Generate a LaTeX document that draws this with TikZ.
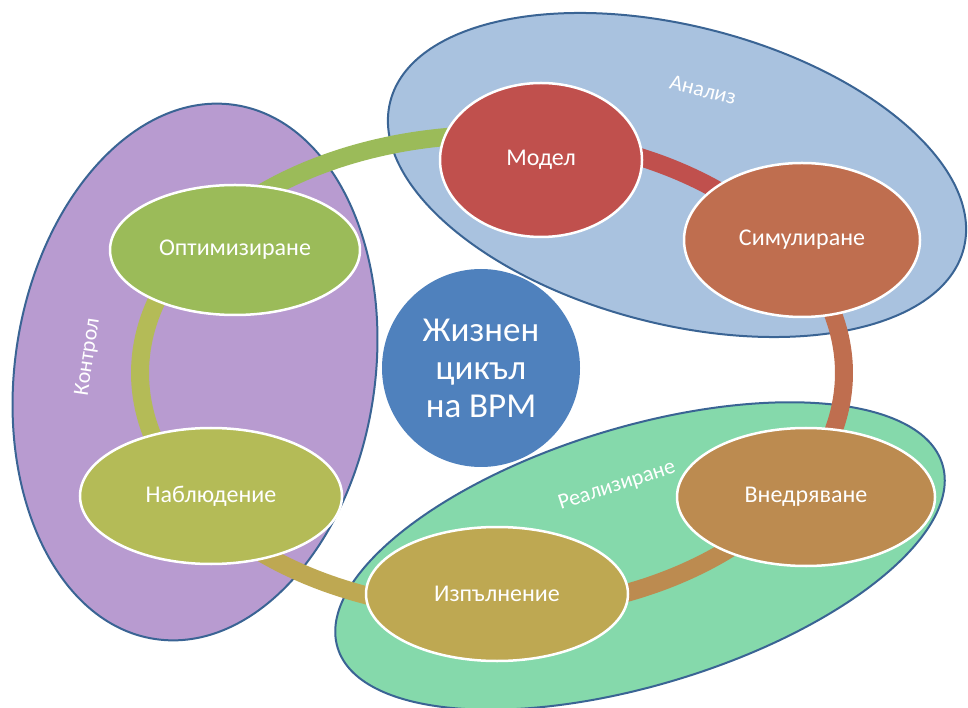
\documentclass[tikz,border=0pt]{standalone}
\usepackage{fontspec}
\setmainfont{Carlito}
\usetikzlibrary{shapes.geometric}
\definecolor{grpblue}{HTML}{A9C2DF}
\definecolor{grppurple}{HTML}{B89BD0}
\definecolor{grpgreen}{HTML}{85D9AB}
\definecolor{grpedge}{HTML}{3A6494}
\definecolor{cmodel}{HTML}{C0504D}
\definecolor{csim}{HTML}{BF6E4F}
\definecolor{cimpl}{HTML}{BC8B50}
\definecolor{cexec}{HTML}{BEA852}
\definecolor{cmon}{HTML}{B4BB57}
\definecolor{copt}{HTML}{9BBB59}
\definecolor{ccenter}{HTML}{4F81BD}
\begin{document}
\begin{tikzpicture}[x=1pt,y=1pt,
  grp/.style={ellipse, draw=grpedge, line width=2pt, inner sep=0pt},
  stage/.style={ellipse, draw=white, line width=2.5pt, text=white,
    font=\fontsize{24}{27}\selectfont, inner sep=0pt},
  band/.style={line width=18pt, line cap=butt},
  grplabel/.style={text=white, font=\fontsize{22}{26}\selectfont, inner sep=0pt}]
\useasboundingbox (0,0) rectangle (968,707);

% group ellipses
\node[grp, fill=grppurple, minimum width=360pt, minimum height=540pt, rotate=-8.5] (kontrol) at (195,335) {};
\node[grp, fill=grpblue, minimum width=592pt, minimum height=298pt, rotate=-14.4] (analiz) at (677,532) {};
\node[grp, fill=grpgreen, minimum width=632pt, minimum height=258pt, rotate=16.85] (realiz) at (640,151) {};

% group labels
\node[grplabel, rotate=-14] (lanaliz) at (703,617) {Анализ};
\node[grplabel, rotate=81.5] (lkontrol) at (88,350) {Контрол};
\node[grplabel, rotate=18] (lrealiz) at (617,221) {Реализиране};

% ring connectors
\coordinate (rc) at (492,334);
\path (rc) ++(144.7:352 and 238) coordinate (pOpt);
\path (rc) ++(81.2:352 and 238) coordinate (pMod);
\path (rc) ++(32.4:352 and 238) coordinate (pSim);
\path (rc) ++(-30.3:352 and 238) coordinate (pImp);
\path (rc) ++(-89.1:352 and 238) coordinate (pExe);
\path (rc) ++(-147.2:352 and 238) coordinate (pMon);
\draw[band, draw=copt] (pOpt) arc[start angle=144.7, end angle=81.2, x radius=352, y radius=238];
\draw[band, draw=cmodel] (pMod) arc[start angle=81.2, end angle=32.4, x radius=352, y radius=238];
\draw[band, draw=csim] (pSim) arc[start angle=32.4, end angle=-30.3, x radius=352, y radius=238];
\draw[band, draw=cimpl] (pImp) arc[start angle=-30.3, end angle=-89.1, x radius=352, y radius=238];
\draw[band, draw=cexec] (pExe) arc[start angle=-89.1, end angle=-147.2, x radius=352, y radius=238];
\draw[band, draw=cmon] (pMon) arc[start angle=212.8, end angle=144.7, x radius=352, y radius=238];

% center
\node[circle, fill=ccenter, minimum size=198pt, inner sep=0pt, text=white, align=center,
  font=\fontsize{35}{38}\selectfont] (center) at (481,339) {Жизнен\\цикъл\\на ВРМ};

% stages
\node[stage, fill=cmodel, minimum width=202pt, minimum height=154pt] (model) at (541,547) {Модел};
\node[stage, fill=csim, minimum width=236pt, minimum height=154pt] (sim) at (802,467) {Симулиране};
\node[stage, fill=cimpl, minimum width=258pt, minimum height=138pt] (impl) at (806,210) {Внедряване};
\node[stage, fill=cexec, minimum width=262pt, minimum height=134pt] (exec) at (497,113) {Изпълнение};
\node[stage, fill=cmon, minimum width=262pt, minimum height=136pt] (mon) at (211,211) {Наблюдение};
\node[stage, fill=copt, minimum width=250pt, minimum height=130pt] (opt) at (235,457) {Оптимизиране};
\end{tikzpicture}
\end{document}
